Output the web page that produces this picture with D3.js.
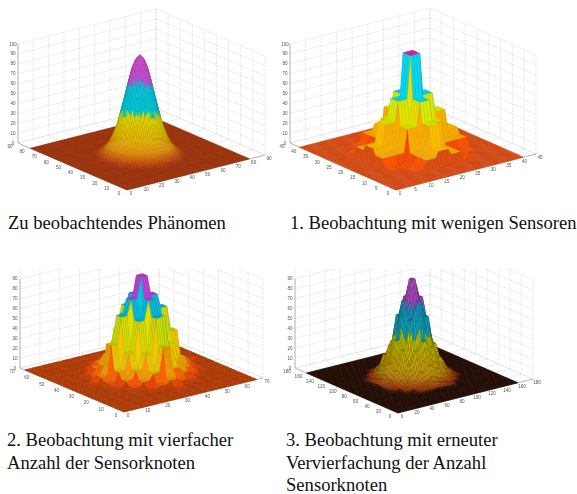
<!DOCTYPE html>
<html>
<head>
	<meta charset="utf-8">
	<title>Beobachtung mit Sensorknoten</title>
	<style>
		html, body { margin: 0; padding: 0; background: #fff; }
		svg { display: block; }
		.caption { font-family: "Liberation Serif", serif; font-size: 18.6px; fill: #111; }
		.tick { font-family: "Liberation Sans", sans-serif; font-size: 4.6px; fill: #555; text-anchor: middle; dominant-baseline: central; }
	</style>
</head>
<body>
<svg width="577" height="494"></svg>
<script src="https://cdn.jsdelivr.net/npm/d3@7"></script>
<script>
	// heights
	const zTicks = [0, 10, 20, 30, 40, 50, 60, 70, 80, 90, 100]
	const zTicksCut = [0, 10, 20, 30, 40, 50, 60, 70, 80, 90]

	const ticks1 = [0, 10, 20, 30, 40, 50, 60, 70, 80, 90]
	const ticks2 = [0, 5, 10, 15, 20, 25, 30, 35, 40, 45]
	const ticks3 = [0, 10, 20, 30, 40, 50, 60, 70]
	const ticks4 = [0, 20, 40, 60, 80, 100, 120, 140, 160, 180]

	// panel 1: height over distance from the centre
	const radius1 = [0, 2, 4, 6, 8, 10, 12, 14, 16, 18, 20, 22, 24]
	const height1 = [100, 96, 87, 72, 56, 41, 27, 17, 10, 5.5, 2.7, 0.8, 0]

	// panels 2-4: one quadrant of the sampled nodes, counted from the centre
	const nodes2 = [
		[100, 57, 37, 16, 0],
		[57, 33, 10, 10, 0],
		[37, 10, 1, 2, 0],
		[16, 10, 2, 0, 0],
		[0, 0, 0, 0, 0]
	]
	const nodes3 = [
		[98, 77, 62, 36, 6, 1],
		[77, 58, 28, 12, 3, 0],
		[62, 28, 14, 6, 1, 0],
		[36, 12, 6, 2, 0, 0],
		[6, 3, 1, 0, 0, 0],
		[1, 0, 0, 0, 0, 0]
	]
	const nodes4 = [
		[100, 80, 42, 20, 6, 0],
		[80, 63, 34, 15, 4, 0],
		[42, 34, 22, 8, 2, 0],
		[20, 15, 8, 3, 0, 0],
		[6, 4, 2, 0, 0, 0],
		[0, 0, 0, 0, 0, 0]
	]

	// colour bands, same height stops for all four pictures
	const bandStops = [0, 1.5, 8, 20, 39, 41, 68, 70, 100]
	const colors1 = ["#b03000", "#c84000", "#e89000", "#eac000", "#e0e000", "#00d0d8", "#10c4e4", "#c850d8", "#d050d0"]
	const colors2 = ["#dc4a10", "#ff4a00", "#f8a800", "#ffc800", "#d8f000", "#00e0f0", "#00d8f0", "#e020b0", "#e020b0"]
	const colors3 = ["#c03c00", "#ff4800", "#f0c000", "#f0d800", "#c8e800", "#00c8d8", "#00c0e0", "#c040e0", "#c840c8"]
	const colors4 = ["#300c04", "#b03808", "#c89008", "#d0b000", "#c4c800", "#10b0bc", "#10a0c8", "#b048c8", "#b858c8"]

	const panels = [
		{ front: [127, 190], left: [18, 143], right: [265, 155], max: 90, ticks: ticks1, z: zTicks, colors: colors1,
			mesh: d3.range(0, 81), edge: 0.8, width: 0.3, height: radial(radius1, height1, 40) },
		{ front: [396, 190], left: [290, 143], right: [536, 154], max: 45, ticks: ticks2, z: zTicks, colors: colors2,
			mesh: d3.range(0, 42), edge: 0.35, width: 0.4, height: sampled(nodes2, 20.5, 4, 1.5) },
		{ front: [124, 412], left: [20, 368], right: [263, 378], max: 70, ticks: ticks3, z: zTicksCut, colors: colors3, cut: 269,
			mesh: stepped(69, 35.5, 5, 1.5), edge: 0.6, width: 0.4, height: sampled(nodes3, 35.5, 5, 1.5) },
		{ front: [398, 413], left: [295, 368], right: [533, 379], max: 180, ticks: ticks4, z: zTicksCut, colors: colors4, cut: 269,
			mesh: d3.range(0, 161, 2), edge: 1.6, width: 0.4, height: sampled(nodes4, 80, 10, 2) }
	]

	const captions = [
		{ x: 8, y: 229, lines: ["Zu beobachtendes Phänomen"] },
		{ x: 290, y: 229, lines: ["1. Beobachtung mit wenigen Sensoren"] },
		{ x: 7, y: 446, lines: ["2. Beobachtung mit vierfacher", "Anzahl der Sensorknoten"] },
		{ x: 286, y: 446, lines: ["3. Beobachtung mit erneuter", "Vervierfachung der Anzahl", "Sensorknoten"] }
	]

	function radial(radii, heights, centre) {
		let sc = d3.scaleLinear().domain(radii).range(heights).clamp(true)
		return (u, v) => sc(Math.hypot(u - centre, v - centre))
	}

	// plateau round each node, straight wall between two nodes
	function sampled(nodes, centre, gap, flat) {
		let ramp = d3.scaleLinear().domain([flat / gap, 1 - flat / gap]).range([0, 1]).clamp(true)
		let at = (i, j) => (nodes[Math.abs(i)] || [])[Math.abs(j)] || 0
		return (u, v) => {
			let a = (u - centre) / gap, b = (v - centre) / gap
			let i = Math.floor(a), j = Math.floor(b)
			let s = ramp(a - i), t = ramp(b - j)
			return d3.interpolateNumber(
				d3.interpolateNumber(at(i, j), at(i + 1, j))(s),
				d3.interpolateNumber(at(i, j + 1), at(i + 1, j + 1))(s))(t)
		}
	}

	// mesh lines only on the plateaus, so a wall is one single facet
	function stepped(end, centre, gap, flat) {
		return d3.range(0, end).filter(u => {
			let a = (u - centre) / gap
			let f = a - Math.floor(a)
			return f <= flat / gap + 1e-6 || f >= 1 - flat / gap - 1e-6
		})
	}

	let svg = d3.select("svg")
	let defs = svg.append("defs")
	defs.append("filter").attr("id", "soft").append("feGaussianBlur").attr("stdDeviation", 0.4)

	panels.forEach((p, n) => {
		// oblique view: each data axis is a scale onto a screen offset
		let ux = d3.scaleLinear().domain([0, p.max]).range([0, p.right[0] - p.front[0]])
		let uy = d3.scaleLinear().domain([0, p.max]).range([0, p.right[1] - p.front[1]])
		let vx = d3.scaleLinear().domain([0, p.max]).range([0, p.left[0] - p.front[0]])
		let vy = d3.scaleLinear().domain([0, p.max]).range([0, p.left[1] - p.front[1]])
		let zy = d3.scaleLinear().domain([0, 100]).range([0, -99])
		let pos = (u, v, z) => [p.front[0] + ux(u) + vx(v), p.front[1] + uy(u) + vy(v) + zy(z)]
		let line = d3.line()

		let g = svg.append("g").attr("filter", "url(#soft)")

		// walls and floor grid
		let walls = g.append("g").attr("fill", "none").attr("stroke", "#dedede").attr("stroke-width", 0.7)
			.attr("stroke-dasharray", "2.5 1")
		if (p.cut) {
			defs.append("clipPath").attr("id", "cut" + n).append("rect")
				.attr("x", 0).attr("y", p.cut).attr("width", 577).attr("height", 225)
			walls.attr("clip-path", `url(#cut${n})`)
		}
		let wallLines = []
		p.ticks.forEach(t => {
			wallLines.push([pos(t, p.max, 0), pos(t, p.max, 100)])
			wallLines.push([pos(p.max, t, 0), pos(p.max, t, 100)])
			wallLines.push([pos(t, 0, 0), pos(t, p.max, 0)])
			wallLines.push([pos(0, t, 0), pos(p.max, t, 0)])
		})
		zTicks.forEach(z => {
			wallLines.push([pos(0, p.max, z), pos(p.max, p.max, z)])
			wallLines.push([pos(p.max, p.max, z), pos(p.max, 0, z)])
		})
		walls.selectAll("path").data(wallLines).enter().append("path").attr("d", line)

		// axis edges
		let edges = g.append("g").attr("fill", "none").attr("stroke", "#a8a8a8").attr("stroke-width", 0.8)
		edges.selectAll("path")
			.data([
				[pos(0, p.max, 0), pos(0, 0, 0), pos(p.max, 0, 0)],
				[pos(0, p.max, 0), pos(0, p.max, p.z[p.z.length - 1])]
			])
			.enter().append("path").attr("d", line)

		// surface, painted from the back corner forward
		let idx = d3.range(p.mesh.length - 1)
		let cells = d3.cross(idx, idx).sort((a, b) => (b[0] + b[1]) - (a[0] + a[1]))
		let colour = d3.scaleLinear().domain(bandStops).range(p.colors).clamp(true)
		let fill = ([i, j]) => colour(p.height(p.mesh[i], p.mesh[j]))
		g.append("g").attr("stroke-width", p.width).attr("stroke-linejoin", "round")
			.selectAll("polygon").data(cells).enter().append("polygon")
				.attr("fill", fill)
				.attr("stroke", d => d3.color(fill(d)).darker(p.edge))
				.attr("points", ([i, j]) => [[i, j], [i + 1, j], [i + 1, j + 1], [i, j + 1]]
					.map(c => {
						let u = p.mesh[c[0]], v = p.mesh[c[1]]
						return pos(u, v, p.height(u, v)).join(",")
					}).join(" "))

		// tick labels
		let labels = g.append("g")
		labels.selectAll(".lv").data(p.ticks).enter().append("text").attr("class", "tick lv")
			.attr("x", t => pos(0, t, 0)[0] - 8).attr("y", t => pos(0, t, 0)[1] + 3.5).text(t => t)
		labels.selectAll(".lu").data(p.ticks).enter().append("text").attr("class", "tick lu")
			.attr("x", t => pos(t, 0, 0)[0] + 4).attr("y", t => pos(t, 0, 0)[1] + 3.5).text(t => t)
		labels.selectAll(".lz").data(p.z).enter().append("text").attr("class", "tick lz")
			.attr("x", pos(0, p.max, 0)[0] - 5).attr("y", z => pos(0, p.max, z)[1]).text(z => z)
	})

	// captions
	captions.forEach(c => {
		svg.append("g").selectAll("text").data(c.lines).enter().append("text")
			.attr("class", "caption")
			.attr("x", c.x).attr("y", (d, i) => c.y + i * 22.5)
			.text(d => d)
	})
</script>
</body>
</html>
